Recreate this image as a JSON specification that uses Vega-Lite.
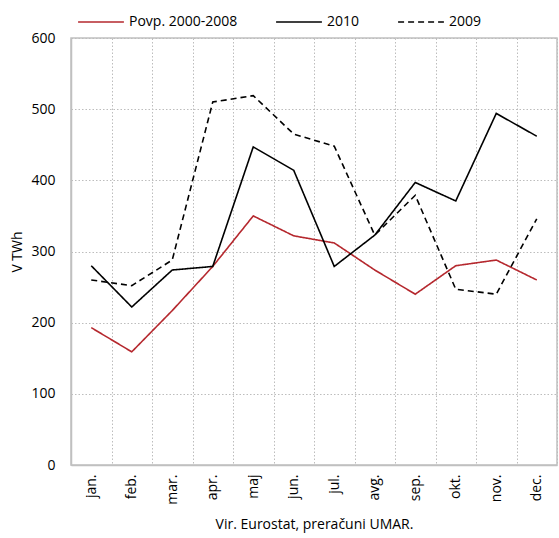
{
  "$schema": "https://vega.github.io/schema/vega-lite/v6.json",
  "autosize": {"type": "none"},
  "width": 486,
  "height": 427,
  "padding": {"left": 71, "top": 38, "right": 2, "bottom": 73},
  "config": {
    "font": "Open Sans",
    "view": {"stroke": "#c0c0c0", "strokeWidth": 1.5},
    "axis": {"labelFont": "Open Sans", "titleFont": "Open Sans", "labelColor": "#000", "titleColor": "#000", "titleFontWeight": "normal"}
  },
  "data": {
    "values": [
      {"month": "jan.", "series": "Povp. 2000-2008", "value": 193},
      {"month": "feb.", "series": "Povp. 2000-2008", "value": 159},
      {"month": "mar.", "series": "Povp. 2000-2008", "value": 217},
      {"month": "apr.", "series": "Povp. 2000-2008", "value": 279},
      {"month": "maj", "series": "Povp. 2000-2008", "value": 350},
      {"month": "jun.", "series": "Povp. 2000-2008", "value": 322},
      {"month": "jul.", "series": "Povp. 2000-2008", "value": 312},
      {"month": "avg.", "series": "Povp. 2000-2008", "value": 274},
      {"month": "sep.", "series": "Povp. 2000-2008", "value": 240},
      {"month": "okt.", "series": "Povp. 2000-2008", "value": 280},
      {"month": "nov.", "series": "Povp. 2000-2008", "value": 288},
      {"month": "dec.", "series": "Povp. 2000-2008", "value": 260},
      {"month": "jan.", "series": "2010", "value": 280},
      {"month": "feb.", "series": "2010", "value": 222},
      {"month": "mar.", "series": "2010", "value": 274},
      {"month": "apr.", "series": "2010", "value": 279},
      {"month": "maj", "series": "2010", "value": 447},
      {"month": "jun.", "series": "2010", "value": 414},
      {"month": "jul.", "series": "2010", "value": 279},
      {"month": "avg.", "series": "2010", "value": 323},
      {"month": "sep.", "series": "2010", "value": 397},
      {"month": "okt.", "series": "2010", "value": 371},
      {"month": "nov.", "series": "2010", "value": 494},
      {"month": "dec.", "series": "2010", "value": 462},
      {"month": "jan.", "series": "2009", "value": 260},
      {"month": "feb.", "series": "2009", "value": 252},
      {"month": "mar.", "series": "2009", "value": 288},
      {"month": "apr.", "series": "2009", "value": 510},
      {"month": "maj", "series": "2009", "value": 519},
      {"month": "jun.", "series": "2009", "value": 465},
      {"month": "jul.", "series": "2009", "value": 448},
      {"month": "avg.", "series": "2009", "value": 323},
      {"month": "sep.", "series": "2009", "value": 379},
      {"month": "okt.", "series": "2009", "value": 247},
      {"month": "nov.", "series": "2009", "value": 240},
      {"month": "dec.", "series": "2009", "value": 346}
    ]
  },
  "mark": {"type": "line", "strokeWidth": 1.6},
  "encoding": {
    "x": {
      "field": "month",
      "type": "nominal",
      "sort": null,
      "scale": {"type": "band", "paddingInner": 0, "paddingOuter": 0},
      "axis": {
        "title": "Vir. Eurostat, preračuni UMAR.",
        "titleFontSize": 14,
        "titlePadding": 13,
        "labelAngle": 270,
        "labelFontSize": 14,
        "labelPadding": 9,
        "ticks": false,
        "grid": true,
        "tickBand": "extent",
        "gridColor": "#bdbdbd",
        "gridDash": [1.5, 2],
        "gridWidth": 1,
        "domainColor": "#c0c0c0",
        "domainWidth": 1.5
      }
    },
    "y": {
      "field": "value",
      "type": "quantitative",
      "scale": {"domain": [0, 600]},
      "axis": {
        "title": "V TWh",
        "titleFontSize": 14,
        "titlePadding": 6,
        "labelFontSize": 14,
        "labelPadding": 16,
        "values": [0, 100, 200, 300, 400, 500, 600],
        "ticks": false,
        "grid": true,
        "gridColor": "#bdbdbd",
        "gridDash": [1.5, 2],
        "gridWidth": 1,
        "domainColor": "#c0c0c0",
        "domainWidth": 1.5
      }
    },
    "color": {
      "field": "series",
      "type": "nominal",
      "scale": {"domain": ["Povp. 2000-2008", "2010", "2009"], "range": ["#b5282e", "#000000", "#000000"]},
      "legend": {
        "title": null,
        "orient": "none",
        "direction": "horizontal",
        "legendX": 6,
        "legendY": -40,
        "symbolType": "stroke",
        "symbolSize": 2100,
        "symbolStrokeWidth": 1.6,
        "labelFontSize": 14,
        "labelFont": "Open Sans",
        "labelColor": "#000",
        "labelOffset": 4,
        "columnPadding": 34
      }
    },
    "strokeDash": {
      "field": "series",
      "type": "nominal",
      "scale": {"domain": ["Povp. 2000-2008", "2010", "2009"], "range": [[1, 0], [1, 0], [6, 4]]},
      "legend": null
    }
  }
}
